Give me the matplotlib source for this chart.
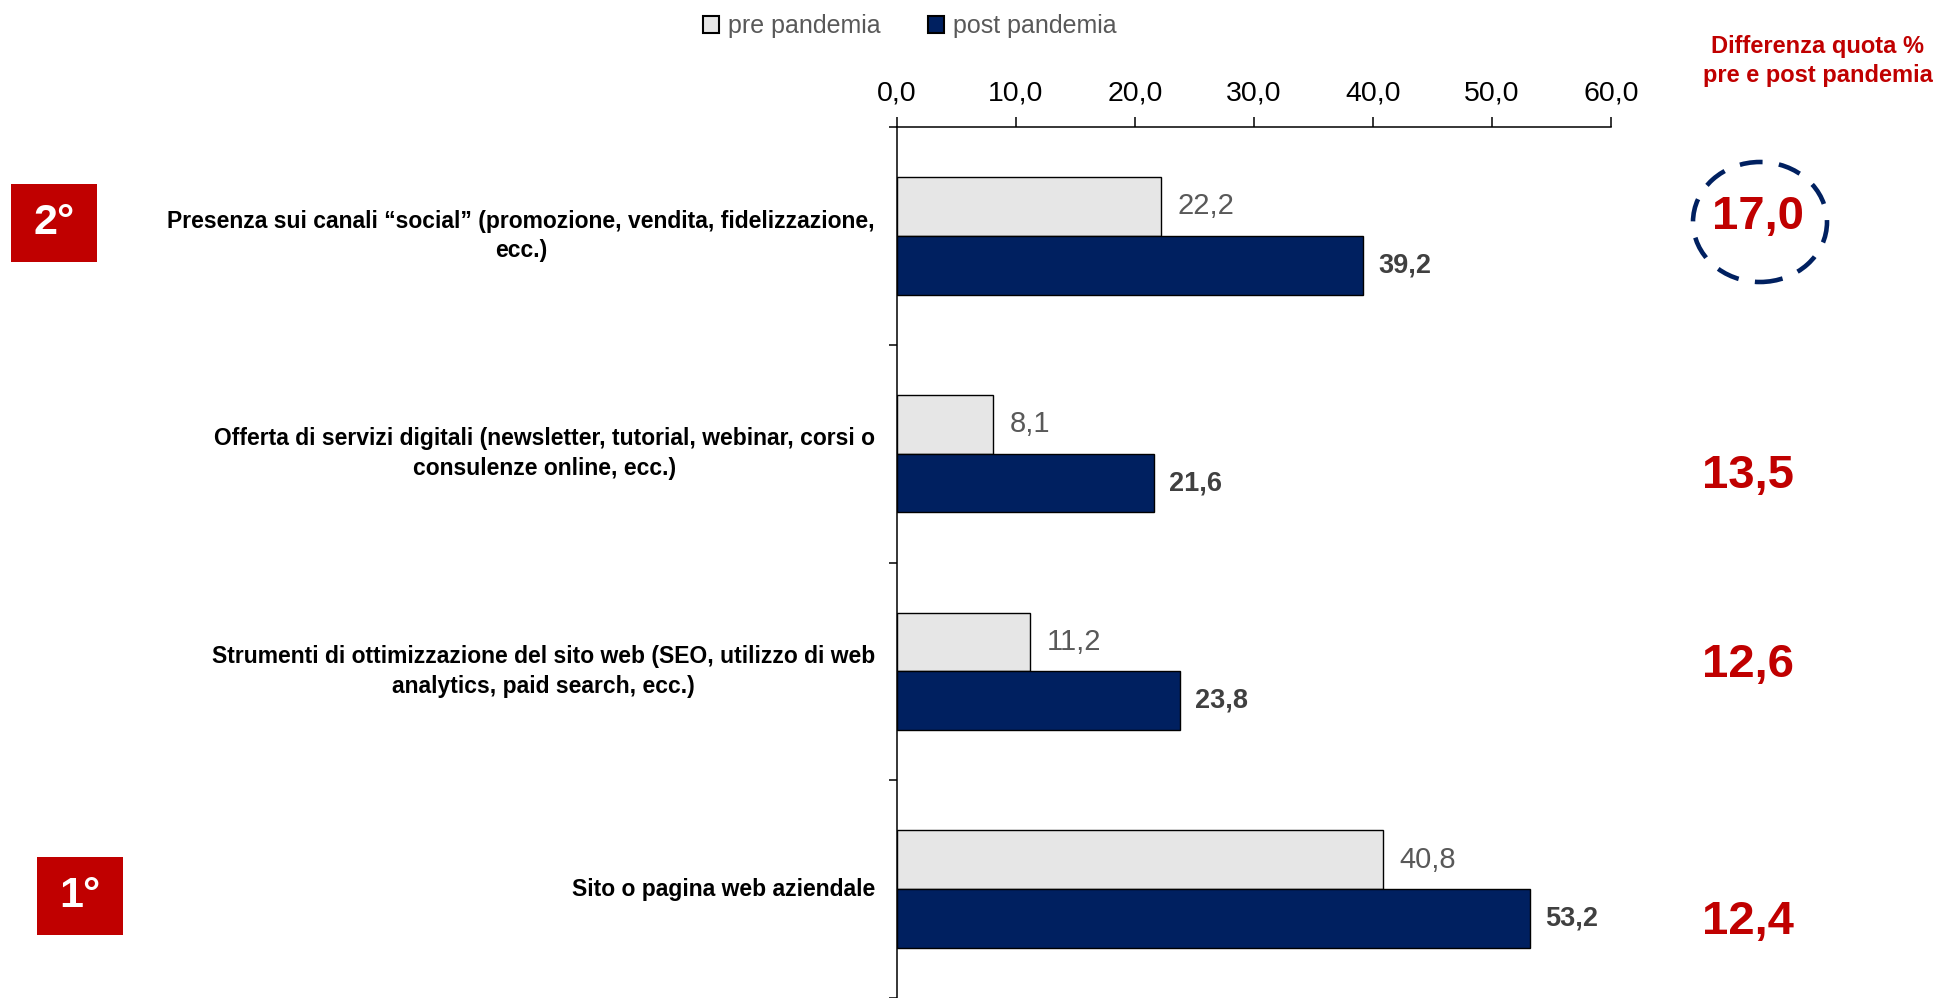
import matplotlib
matplotlib.use("Agg")
import matplotlib.pyplot as plt
from matplotlib.patches import Patch, Rectangle, Ellipse
import matplotlib.transforms as mtransforms

# dati
categorie = [
    "Presenza sui canali “social” (promozione, vendita, fidelizzazione,\necc.)",
    "Offerta di servizi digitali (newsletter, tutorial, webinar, corsi o\nconsulenze online, ecc.)",
    "Strumenti di ottimizzazione del sito web (SEO, utilizzo di web\nanalytics, paid search, ecc.)",
    "Sito o pagina web aziendale",
]
pre_pandemia = [22.2, 8.1, 11.2, 40.8]
post_pandemia = [39.2, 21.6, 23.8, 53.2]
differenza = [17.0, 13.5, 12.6, 12.4]
xticks = [0, 10, 20, 30, 40, 50, 60]

NARROW = ["Liberation Sans Narrow", "Liberation Sans", "DejaVu Sans"]
plt.rcParams["font.family"] = NARROW

ROSSO = "#C00000"
BLU = "#002060"
GRIGIO = "#E6E6E6"


def fmt(v):
    return f"{v:.1f}".replace(".", ",")


fig = plt.figure(figsize=(19.46, 9.98), dpi=100)
ax = fig.add_axes([897 / 1946, 0.0, (1611 - 897) / 1946, 1 - 127 / 998])

y = list(range(len(categorie)))
h = 0.27
ax.barh([i - 0.135 for i in y], pre_pandemia, height=h, color=GRIGIO,
        edgecolor="black", linewidth=1.0)
ax.barh([i + 0.135 for i in y], post_pandemia, height=h, color=BLU,
        edgecolor="black", linewidth=1.0)

ax.set_xlim(0, 60)
ax.set_ylim(3.5, -0.5)

# asse x in alto
ax.xaxis.tick_top()
ax.set_xticks(xticks)
ax.set_xticklabels([fmt(t) for t in xticks], fontsize=20.5, color="black")
ax.tick_params(axis="x", direction="out", length=7, width=1.1, pad=8)
ax.set_yticks([-0.5, 0.5, 1.5, 2.5, 3.5])
ax.set_yticklabels([])
ax.tick_params(axis="y", direction="out", length=6, width=1.1)
for s in ["right", "bottom"]:
    ax.spines[s].set_visible(False)
for s in ["top", "left"]:
    ax.spines[s].set_linewidth(1.1)

# etichette valori
for i in y:
    ax.annotate(fmt(pre_pandemia[i]), xy=(pre_pandemia[i], i - 0.135),
                xytext=(12, 0), textcoords="offset points", va="center",
                ha="left", fontsize=21, color="#595959")
    ax.annotate(fmt(post_pandemia[i]), xy=(post_pandemia[i], i + 0.135),
                xytext=(11, 0), textcoords="offset points", va="center",
                ha="left", fontsize=19.5, color="#404040", fontweight="bold")

# etichette categorie
for i, c in enumerate(categorie):
    ax.annotate(c, xy=(0, i), xycoords=("axes fraction", "data"),
                xytext=(-16, 0), textcoords="offset points", ha="right",
                va="center", multialignment="center", fontsize=16.5,
                fontweight="bold", linespacing=1.35, annotation_clip=False)

# differenze a destra
trans = mtransforms.blended_transform_factory(fig.transFigure, ax.transData)
dy = [-0.085, 0.105, -0.03, 0.15]
dx = [0.9035, 0.898, 0.898, 0.898]
for i, d in enumerate(differenza):
    ax.text(dx[i], i + dy[i], fmt(d), transform=trans, ha="center",
            va="center", fontsize=34, fontweight="bold", color=ROSSO,
            clip_on=False)

fig.text(0.934, 0.939, "Differenza quota %\npre e post pandemia", ha="center",
         va="center", fontsize=17, fontweight="bold", color=ROSSO,
         linespacing=1.35)

fig.add_artist(Ellipse((1760 / 1946, 1 - 222 / 998), 134 / 1946, 120 / 998,
                       transform=fig.transFigure, fill=False, edgecolor=BLU,
                       linewidth=3.3, linestyle=(0, (5.0, 3.6))))

# riquadri posizione
for lab, x0, y0 in [("2°", 11, 184), ("1°", 37, 857)]:
    fig.add_artist(Rectangle((x0 / 1946, 1 - (y0 + 78) / 998), 86 / 1946,
                             78 / 998, transform=fig.transFigure,
                             facecolor=ROSSO, edgecolor="none"))
    fig.text((x0 + 43) / 1946, 1 - (y0 + 39) / 998, lab, ha="center",
             va="center", fontsize=31, color="white", fontweight="bold")

# legenda
handles = [Patch(facecolor=GRIGIO, edgecolor="black", linewidth=1.5),
           Patch(facecolor=BLU, edgecolor="black", linewidth=1.5)]
fig.legend(handles, ["pre pandemia", "post pandemia"], loc="center",
           bbox_to_anchor=(0.4676, 0.974), ncol=2, frameon=False,
           fontsize=18, labelcolor="#595959", handlelength=0.65,
           handleheight=0.65, handletextpad=0.35, columnspacing=1.9,
           borderpad=0.1)

fig.savefig("out.png", dpi=100)
